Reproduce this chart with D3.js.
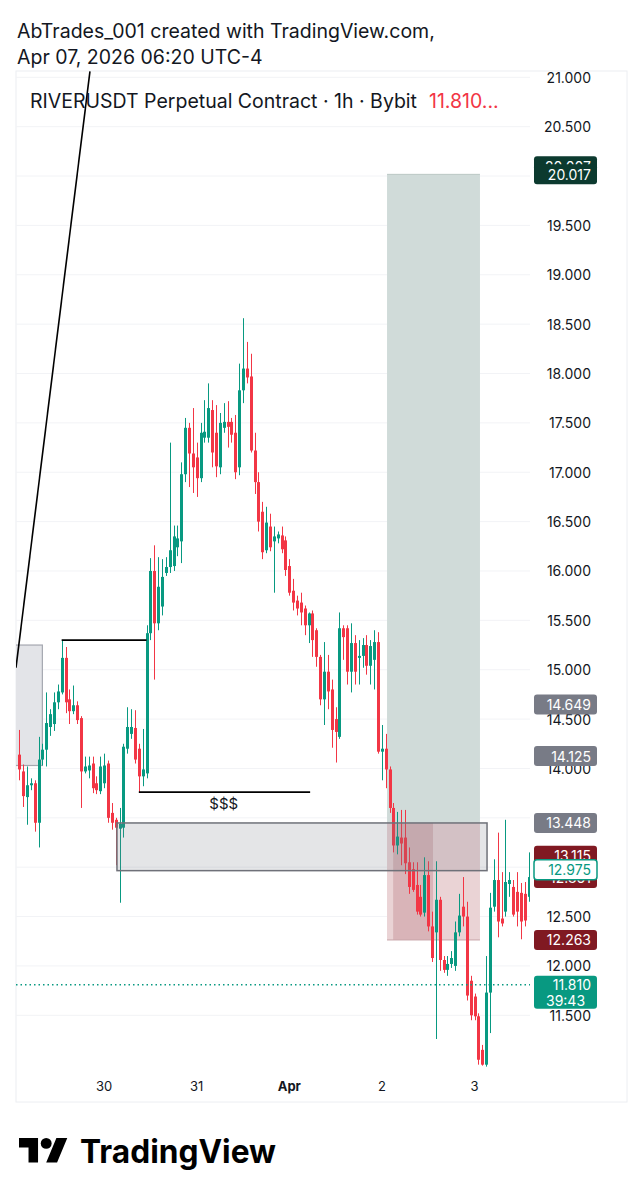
<!DOCTYPE html>
<html>
<head>
<meta charset="utf-8">
<script src="https://cdn.jsdelivr.net/npm/d3@7"></script>
<style>
  body { margin: 0; background: #fff; }
  svg { display: block; font-family: Inter, "Noto Sans", sans-serif; }
</style>
</head>
<body>
<svg id="chart"></svg>
<script>
// ---- data ----
const opens = [14.14,13.97,13.71,13.83,13.85,13.45,14.09,14.19,14.42,14.45,14.67,14.77,15.12,14.70,14.58,14.64,14.51,13.97,13.98,14.05,
  13.85,13.77,13.85,14.05,13.55,13.48,13.39,13.40,14.20,14.35,14.41,14.20,13.92,13.95,15.37,16.00,15.47,15.64,15.98,16.04,
  16.05,16.24,16.30,16.98,17.45,17.19,17.15,16.94,17.35,17.35,17.63,17.40,17.05,17.45,17.51,17.51,17.40,17.05,17.83,18.05,
  17.97,17.22,16.90,16.60,16.21,16.45,16.30,16.33,16.36,16.31,16.05,15.80,15.70,15.68,15.62,15.45,15.57,15.40,15.13,14.70,
  14.98,14.80,14.50,14.32,15.42,15.42,14.98,15.27,15.12,15.14,15.25,15.04,15.10,15.28,14.17,14.20,13.99,13.60,13.22,13.30,
  13.30,13.05,12.98,12.82,12.70,12.54,12.92,12.40,12.34,12.67,12.06,11.96,12.02,12.00,12.34,12.60,12.50,11.85,11.69,11.49,
  11.15,11.00,11.73,12.60,12.87,12.48,12.55,12.83,12.80,12.75,12.74,12.73,12.70];
const highs = [14.39,14.04,14.02,13.90,13.88,14.32,14.25,14.77,14.60,14.77,14.85,15.30,15.23,14.80,14.84,14.68,14.53,14.12,14.12,14.12,
  13.92,14.12,14.15,14.08,13.65,13.50,13.60,14.25,14.62,14.60,14.59,14.25,14.40,15.45,16.13,16.26,16.14,16.12,16.14,17.30,
  16.46,16.46,17.10,17.55,17.50,17.65,17.30,17.50,17.73,17.90,17.73,17.68,17.60,17.70,17.72,17.55,17.58,18.10,18.56,18.32,
  18.20,17.40,17.00,16.70,16.65,16.58,16.45,16.40,16.45,16.35,16.12,15.92,15.75,15.78,15.65,15.58,15.60,15.42,15.15,15.28,
  15.15,14.90,14.62,15.58,15.45,15.45,15.47,15.35,15.30,15.32,15.35,15.30,15.40,15.38,14.44,14.35,14.02,13.65,13.56,13.58,
  13.58,13.20,13.05,13.05,12.82,13.10,13.06,12.55,13.06,12.70,12.10,12.10,12.15,12.45,12.73,12.90,12.65,11.90,11.72,11.52,
  11.20,12.10,12.74,13.08,13.35,12.95,13.48,12.95,12.87,12.95,12.84,12.85,13.15];
const lows = [13.88,13.61,13.43,13.78,13.36,13.20,14.03,14.02,14.33,14.38,14.60,14.75,14.56,14.45,14.55,14.45,13.60,13.95,13.90,13.75,
  13.74,13.74,13.80,13.45,13.38,13.02,12.64,13.30,14.15,14.30,14.05,13.76,13.82,13.90,15.30,14.90,15.40,15.55,15.95,15.98,
  16.00,16.15,16.08,16.90,16.85,16.79,16.75,16.90,17.30,17.30,17.05,16.95,16.98,17.40,17.25,17.30,16.93,16.97,17.70,17.90,
  17.20,16.78,16.40,16.12,16.18,16.20,15.78,16.28,16.18,15.95,15.75,15.60,15.55,15.45,15.35,15.27,15.13,15.03,14.64,14.44,
  14.60,14.21,14.06,14.30,15.10,14.85,14.77,14.85,14.85,15.02,14.95,14.85,14.80,14.15,13.88,13.80,13.55,13.15,13.13,13.02,
  12.93,12.73,12.75,12.52,12.50,12.50,12.35,12.04,11.26,11.95,11.93,11.90,11.98,11.95,12.30,12.40,11.65,11.45,11.45,11.00,
  10.99,10.98,11.32,12.55,12.29,12.40,12.50,12.70,12.50,12.40,12.27,12.40,12.65];
const closes = [13.99,13.72,13.83,13.85,13.45,14.09,14.19,14.46,14.55,14.67,14.78,15.12,14.67,14.58,14.64,14.49,13.97,14.02,14.03,13.80,
  13.78,14.02,14.03,13.50,13.45,13.40,13.44,14.22,14.42,14.42,14.09,13.92,13.99,15.37,16.00,15.47,15.84,15.94,16.04,16.21,
  16.35,16.33,16.98,17.45,17.19,17.05,16.94,17.40,17.41,17.65,17.20,17.06,17.50,17.51,17.46,17.38,17.00,17.83,18.05,17.96,
  17.22,16.90,16.50,16.19,16.49,16.24,16.35,16.37,16.22,16.01,15.78,15.68,15.62,15.58,15.45,15.57,15.30,15.13,14.70,14.98,
  14.78,14.39,14.37,15.42,15.33,14.98,15.27,14.98,15.14,15.25,15.04,15.24,15.28,14.17,14.20,13.99,13.60,13.22,13.31,13.24,
  13.04,12.80,12.77,12.55,12.52,12.92,12.40,12.08,12.67,12.06,11.96,12.02,12.08,12.34,12.51,12.50,11.70,11.50,11.49,11.05,
  11.00,11.73,12.59,12.87,12.45,12.43,12.85,12.87,12.52,12.55,12.45,12.46,12.90];
const firstCandle = new Date(2026, 2, 29, 2);   // hourly bars from here

const priceTicks = [11.5,12,12.5,13,13.5,14,14.5,15,15.5,16,16.5,17,17.5,18,18.5,19,19.5,20,20.5,21];
const hiddenTicks = [13, 13.5, 20];   // labels covered by badges in the original
const dayTicks = [new Date(2026,2,30), new Date(2026,2,31), new Date(2026,3,1), new Date(2026,3,2), new Date(2026,3,3)];
const dayLabels = ["30", "31", "Apr", "2", "3"];

const lastPrice = 11.810;
const countdown = "39:43";
const badgePrices = [20.007, 20.017, 14.649, 14.125, 13.448, 13.115, 12.861, 12.975, 12.263];
const badgeKinds  = ["target", "target", "gray", "gray", "gray", "stop", "stop", "outline", "stop"];

// drawings: [time, price]
const trendLine = [[new Date(2026,2,29,1,10), 15.02], [new Date(2026,2,29,20,20), 21.06]];
const highLine  = [[new Date(2026,2,29,13), 15.30], [new Date(2026,2,30,11), 15.30]];
const lowLine   = [[new Date(2026,2,30,9), 13.76], [new Date(2026,3,1,5,24), 13.76]];
const liqText   = [new Date(2026,2,31,7), 13.63, "$$$"];
const leftBox   = [new Date(2026,2,28,20), new Date(2026,2,29,8), 15.25, 14.03];
const orderBlock = [new Date(2026,2,30,3,20), new Date(2026,3,3,3,15), 13.448, 12.965];
const position  = { start: new Date(2026,3,2,1,20), end: new Date(2026,3,3,1,25),
                    entry: 13.448, target: 20.017, stop: 12.263,
                    runStart: new Date(2026,3,2,2,55), runEnd: new Date(2026,3,2,13,15) };

// ---- layout ----
const W = 643, H = 1200;
const pane = { left: 16, right: 530, top: 71, bottom: 1072 };
const frame = { left: 16, right: 627, top: 71, bottom: 1102 };

const svg = d3.select("#chart").attr("width", W).attr("height", H);

const x = d3.scaleTime().domain([dayTicks[0], dayTicks[4]]).range([104.1, 474.5]);
const y = d3.scaleLinear().domain([11.5, 21]).range([1015.3, 77.3]);

const candles = opens.map((o, i) => ({
  t: d3.timeHour.offset(firstCandle, i), o: o, h: highs[i], l: lows[i], c: closes[i]
}));

const GREEN = "#089981", RED = "#f23645", INK = "#131722";

// header
svg.append("text").attr("x", 17).attr("y", 38).attr("font-size", 19.5).attr("fill", INK)
  .text("AbTrades_001 created with TradingView.com,");
svg.append("text").attr("x", 17).attr("y", 64).attr("font-size", 19.5).attr("fill", INK)
  .text("Apr 07, 2026 06:20 UTC-4");

// frame
svg.append("rect").attr("x", frame.left).attr("y", frame.top)
  .attr("width", frame.right - frame.left).attr("height", frame.bottom - frame.top)
  .attr("fill", "none").attr("stroke", "#eceef2");

// grid
svg.append("g").selectAll("line").data(priceTicks).join("line")
  .attr("x1", pane.left).attr("x2", pane.right)
  .attr("y1", d => y(d)).attr("y2", d => y(d))
  .attr("stroke", "#f2f3f6");

svg.append("defs").append("clipPath").attr("id", "paneClip")
  .append("rect").attr("x", pane.left).attr("y", pane.top)
  .attr("width", pane.right - pane.left).attr("height", pane.bottom - pane.top);

const plot = svg.append("g").attr("clip-path", "url(#paneClip)");

// boxes behind candles
plot.append("rect")
  .attr("x", x(leftBox[0])).attr("y", y(leftBox[2]))
  .attr("width", x(leftBox[1]) - x(leftBox[0])).attr("height", y(leftBox[3]) - y(leftBox[2]))
  .attr("fill", "#e3e4e8").attr("stroke", "#a5a8b0").attr("stroke-width", 1.2);

const px0 = x(position.start), px1 = x(position.end);
plot.append("rect").attr("x", px0).attr("y", y(position.target))
  .attr("width", px1 - px0).attr("height", y(position.entry) - y(position.target))
  .attr("fill", "#d0dbd9");
plot.append("line").attr("x1", px0).attr("x2", px1)
  .attr("y1", y(position.target)).attr("y2", y(position.target))
  .attr("stroke", "#bac7c5");
plot.append("rect").attr("x", px0).attr("y", y(position.entry))
  .attr("width", px1 - px0).attr("height", y(position.stop) - y(position.entry))
  .attr("fill", "#ead3d5");
plot.append("rect").attr("x", x(position.runStart)).attr("y", y(position.entry))
  .attr("width", x(position.runEnd) - x(position.runStart))
  .attr("height", y(position.stop) - y(position.entry))
  .attr("fill", "#d9b4b8");
plot.append("line").attr("x1", px0).attr("x2", px1)
  .attr("y1", y(position.stop)).attr("y2", y(position.stop))
  .attr("stroke", "#c9a5a9");

// candles
const bodyW = 3;
const cg = plot.append("g");
cg.selectAll("line").data(candles).join("line")
  .attr("x1", d => Math.round(x(d.t)) + 0.5).attr("x2", d => Math.round(x(d.t)) + 0.5)
  .attr("y1", d => y(d.h)).attr("y2", d => y(d.l))
  .attr("stroke", d => d.c >= d.o ? GREEN : RED).attr("stroke-width", 1);
cg.selectAll("rect").data(candles).join("rect")
  .attr("x", d => Math.round(x(d.t)) - 1)
  .attr("y", d => y(Math.max(d.o, d.c)))
  .attr("width", bodyW)
  .attr("height", d => Math.max(1, Math.abs(y(d.o) - y(d.c))))
  .attr("fill", d => d.c >= d.o ? GREEN : RED);

// order block on top of candles (translucent)
plot.append("rect")
  .attr("x", x(orderBlock[0])).attr("y", y(orderBlock[2]))
  .attr("width", x(orderBlock[1]) - x(orderBlock[0])).attr("height", y(orderBlock[3]) - y(orderBlock[2]))
  .attr("fill", "rgba(120,123,134,0.2)").attr("stroke", "#6f7179").attr("stroke-width", 1.5);

// line drawings
const seg = (g, p, w) => g.append("line")
  .attr("x1", x(p[0][0])).attr("y1", y(p[0][1]))
  .attr("x2", x(p[1][0])).attr("y2", y(p[1][1]))
  .attr("stroke", "#000").attr("stroke-width", w);
seg(plot, trendLine, 1.6);
seg(plot, highLine, 1.6);
seg(plot, lowLine, 1.6);
plot.append("text").attr("x", x(liqText[0])).attr("y", y(liqText[1]))
  .attr("text-anchor", "middle").attr("dominant-baseline", "middle")
  .attr("font-size", 15).attr("fill", INK).text(liqText[2]);

// last price dotted line
plot.append("line").attr("x1", pane.left).attr("x2", pane.right)
  .attr("y1", y(lastPrice)).attr("y2", y(lastPrice))
  .attr("stroke", GREEN).attr("stroke-width", 1.5).attr("stroke-dasharray", "1.5,3");

// title legend
const title = svg.append("text").attr("x", 30).attr("y", 108).attr("font-size", 19.5).attr("fill", INK);
title.append("tspan").text("RIVERUSDT Perpetual Contract · 1h · Bybit");
title.append("tspan").attr("dx", 12).attr("fill", RED).text(d3.format(".3f")(lastPrice) + "...");

// price scale labels
svg.append("g").selectAll("text").data(priceTicks.filter(d => !hiddenTicks.includes(d))).join("text")
  .attr("x", 591).attr("y", d => y(d)).attr("text-anchor", "end")
  .attr("dominant-baseline", "central").attr("font-size", 14).attr("fill", INK)
  .text(d3.format(".3f"));

// badges
const badgeStyle = {
  target:  { fill: "#0c3a2f", stroke: "none", text: "#fff" },
  gray:    { fill: "#787b86", stroke: "none", text: "#fff" },
  stop:    { fill: "#801922", stroke: "none", text: "#fff" },
  outline: { fill: "#fff", stroke: GREEN, text: GREEN }
};
const badgeShift = { 0: -9, 6: -3 };
const bg = svg.append("g");
badgePrices.forEach((p, i) => {
  const s = badgeStyle[badgeKinds[i]];
  const cy = y(p) + (badgeShift[i] || 0);
  bg.append("rect").attr("x", 534).attr("y", cy - 10).attr("width", 63).attr("height", 20)
    .attr("rx", 3).attr("fill", s.fill).attr("stroke", s.stroke).attr("stroke-width", 1.5);
  bg.append("text").attr("x", 591).attr("y", cy).attr("text-anchor", "end")
    .attr("dominant-baseline", "central").attr("font-size", 14).attr("fill", s.text)
    .text(d3.format(".3f")(p));
});
const ly = y(lastPrice);
bg.append("rect").attr("x", 534).attr("y", ly - 9).attr("width", 63).attr("height", 33)
  .attr("rx", 3).attr("fill", GREEN);
bg.append("text").attr("x", 591).attr("y", ly).attr("text-anchor", "end")
  .attr("dominant-baseline", "central").attr("font-size", 14).attr("fill", "#fff")
  .text(d3.format(".3f")(lastPrice));
bg.append("text").attr("x", 546).attr("y", ly + 16)
  .attr("dominant-baseline", "central").attr("font-size", 14).attr("fill", "#fff")
  .text(countdown);

// time axis
svg.append("g").selectAll("text").data(dayTicks).join("text")
  .attr("x", d => x(d)).attr("y", 1086).attr("text-anchor", "middle")
  .attr("dominant-baseline", "central").attr("font-size", 13).attr("fill", INK)
  .attr("font-weight", (d, i) => dayLabels[i] === "Apr" ? 700 : 400)
  .text((d, i) => dayLabels[i]);

// TradingView logo
const logo = svg.append("g").attr("transform", "translate(19,1132.5) scale(1.36)").attr("fill", "#000");
logo.append("path").attr("d", "M14 22H7V11H0V4h14v18zM28 22h-8l7.5-18h8L28 22z");
logo.append("circle").attr("cx", 20).attr("cy", 8).attr("r", 4);
svg.append("text").attr("x", 80).attr("y", 1163).attr("font-size", 32).attr("font-weight", 700)
  .attr("fill", "#000").attr("textLength", 196).attr("lengthAdjust", "spacingAndGlyphs")
  .text("TradingView");
</script>
</body>
</html>
